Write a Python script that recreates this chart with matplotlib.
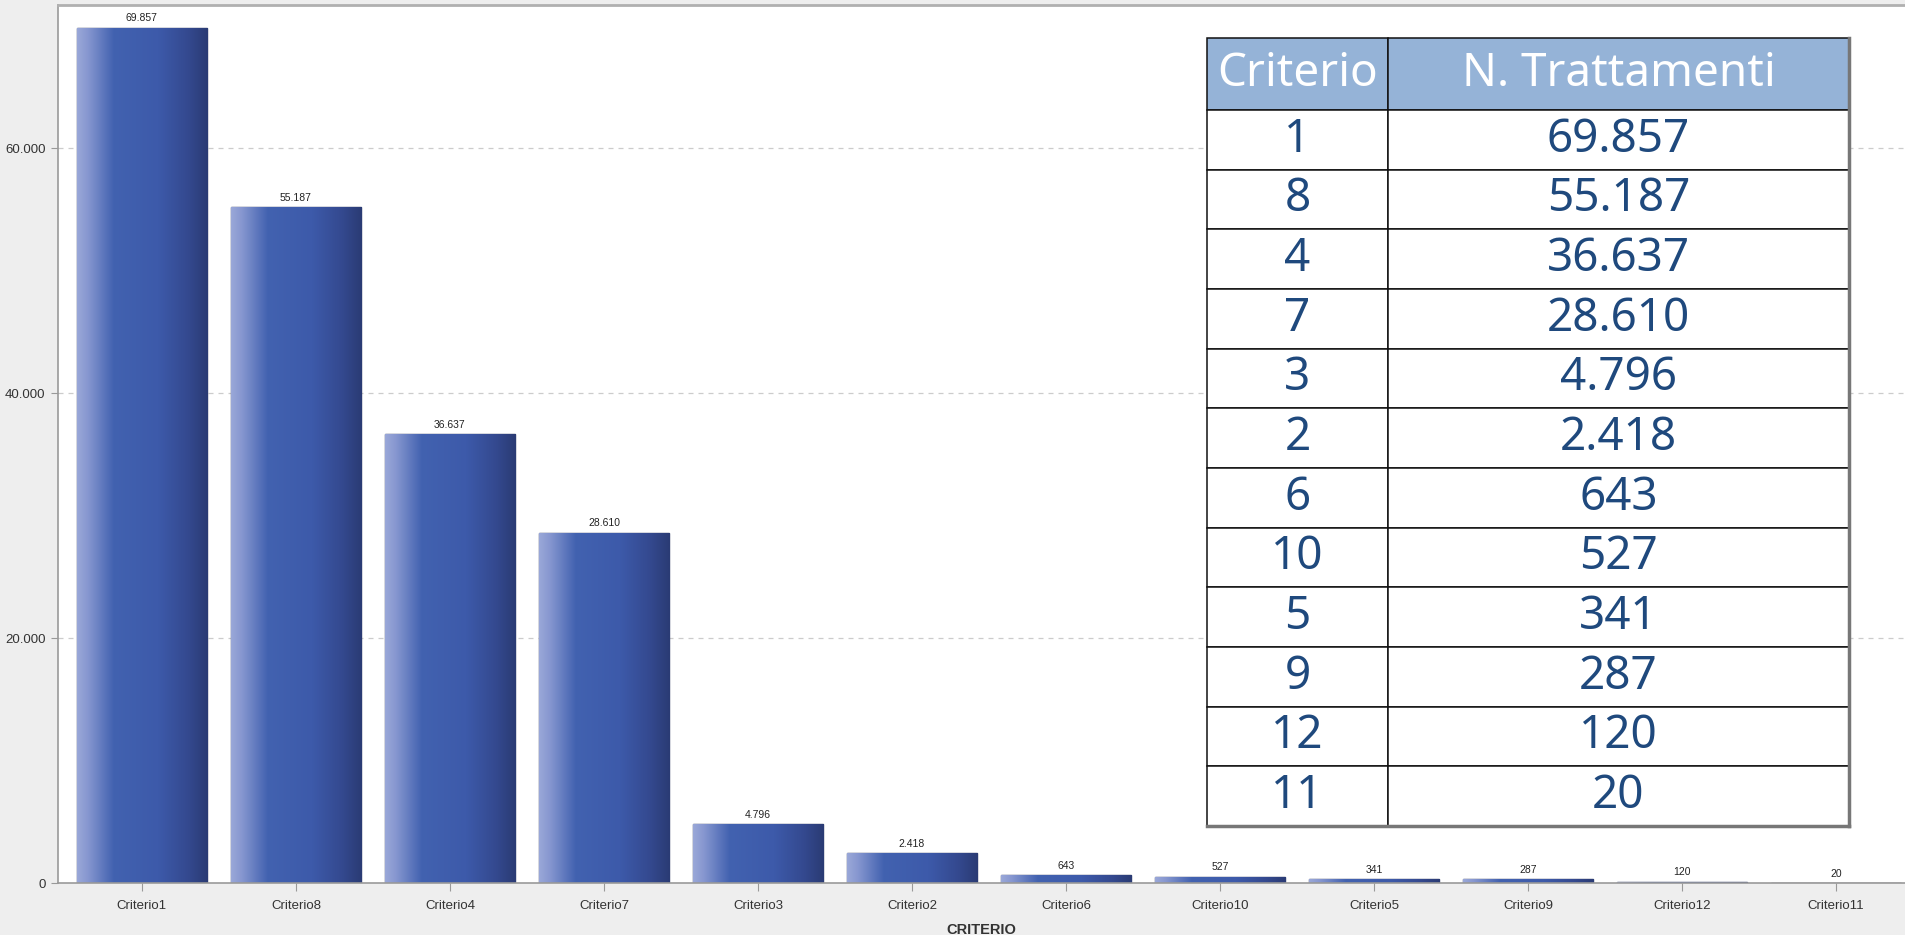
import matplotlib.pyplot as plt
import numpy as np
from matplotlib.colors import LinearSegmentedColormap

# data
categories = ["Criterio1", "Criterio8", "Criterio4", "Criterio7", "Criterio3", "Criterio2",
              "Criterio6", "Criterio10", "Criterio5", "Criterio9", "Criterio12", "Criterio11"]
treatments = [69857, 55187, 36637, 28610, 4796, 2418, 643, 527, 341, 287, 120, 20]
table_ids = ["1", "8", "4", "7", "3", "2", "6", "10", "5", "9", "12", "11"]
table_header = ["Criterio", "N. Trattamenti"]
ytick_values = [0, 20000, 40000, 60000]
ytick_labels = ["0", "20.000", "40.000", "60.000"]


def it_fmt(v):
    return f"{v:,}".replace(",", ".")


W, H = 1905, 935
fig = plt.figure(figsize=(W / 100, H / 100), dpi=100, facecolor="#EEEEEE")

ax = fig.add_axes([58 / W, 52 / H, (W - 58) / W, (883 - 5) / H])
ax.set_facecolor("white")

x = np.arange(len(categories))
bars = ax.bar(x, treatments, width=0.845, color="#3F5BAA", edgecolor="#2A3560",
              linewidth=1.0, zorder=2)

# horizontal gradient inside each bar
grad_cmap = LinearSegmentedColormap.from_list(
    "bar", [(0.0, "#9AA8D8"), (0.08, "#8797D0"), (0.28, "#4262B0"),
            (0.62, "#3D5AAA"), (0.85, "#34498F"), (1.0, "#2A3B74")])
gradient = np.linspace(0, 1, 256).reshape(1, -1)
for b in bars:
    x0, w, h = b.get_x(), b.get_width(), b.get_height()
    im = ax.imshow(gradient, cmap=grad_cmap, aspect="auto", extent=(x0, x0 + w, 0, h),
                   zorder=2.5, interpolation="bilinear")
    im.set_clip_path(b)

ax.bar_label(bars, labels=[it_fmt(v) for v in treatments], padding=3,
             fontsize=7.5, family="Liberation Sans", color="#222222")

ax.set_xlim(-0.545, 11.448)
ax.set_ylim(0, 71700)
ax.set_xticks(x)
ax.set_xticklabels(categories, fontsize=9.5, family="Liberation Sans", color="#333333")
ax.set_yticks(ytick_values)
ax.set_yticklabels(ytick_labels, fontsize=9.5, family="Liberation Sans", color="#333333")
ax.tick_params(axis="x", length=6, width=0.8, color="#999999", pad=6)
ax.tick_params(axis="y", length=5, width=0.8, color="#999999", pad=4)
ax.set_xlabel("CRITERIO", fontsize=10.5, fontweight="bold", family="Liberation Sans",
              color="#333333", labelpad=8)

for yv in ytick_values[1:]:
    ax.axhline(yv, color="#CCCCCC", lw=0.9, ls=(0, (4, 4)), zorder=1)

for side in ["left", "bottom"]:
    ax.spines[side].set_color("#999999")
    ax.spines[side].set_linewidth(1.2)
ax.spines["top"].set_color("#B0B0B0")
ax.spines["top"].set_linewidth(2)
ax.spines["right"].set_visible(False)

# summary table drawn on top of the plot
tax = fig.add_axes([1207 / W, (H - 826) / H, (1849 - 1207) / W, (826 - 38) / H])
tax.set_axis_off()
rows = [[cid, it_fmt(v)] for cid, v in zip(table_ids, treatments)]
tbl = tax.table(cellText=rows, colLabels=table_header, bbox=[0, 0, 1, 1], cellLoc="center")
tbl.auto_set_font_size(False)
col_w = [181, 461]
for (r, c), cell in tbl.get_celld().items():
    cell.set_width(col_w[c])
    cell.set_height(72 if r == 0 else 59.7)
    cell.set_edgecolor("#111111")
    cell.set_linewidth(1.1)
    txt = cell.get_text()
    txt.set_fontsize(33)
    txt.set_family("Noto Sans")
    if r == 0:
        cell.set_facecolor("#95B3D7")
        txt.set_color("white")
    else:
        cell.set_facecolor("white")
        txt.set_color("#1F497D")

# darker shadow edge at right and bottom of the table
tax.plot([1, 1], [0, 1], color="#777777", lw=2.5, transform=tax.transAxes, clip_on=False)
tax.plot([0, 1], [0, 0], color="#777777", lw=2.5, transform=tax.transAxes, clip_on=False)

fig.savefig("out.png", dpi=100, facecolor=fig.get_facecolor())
